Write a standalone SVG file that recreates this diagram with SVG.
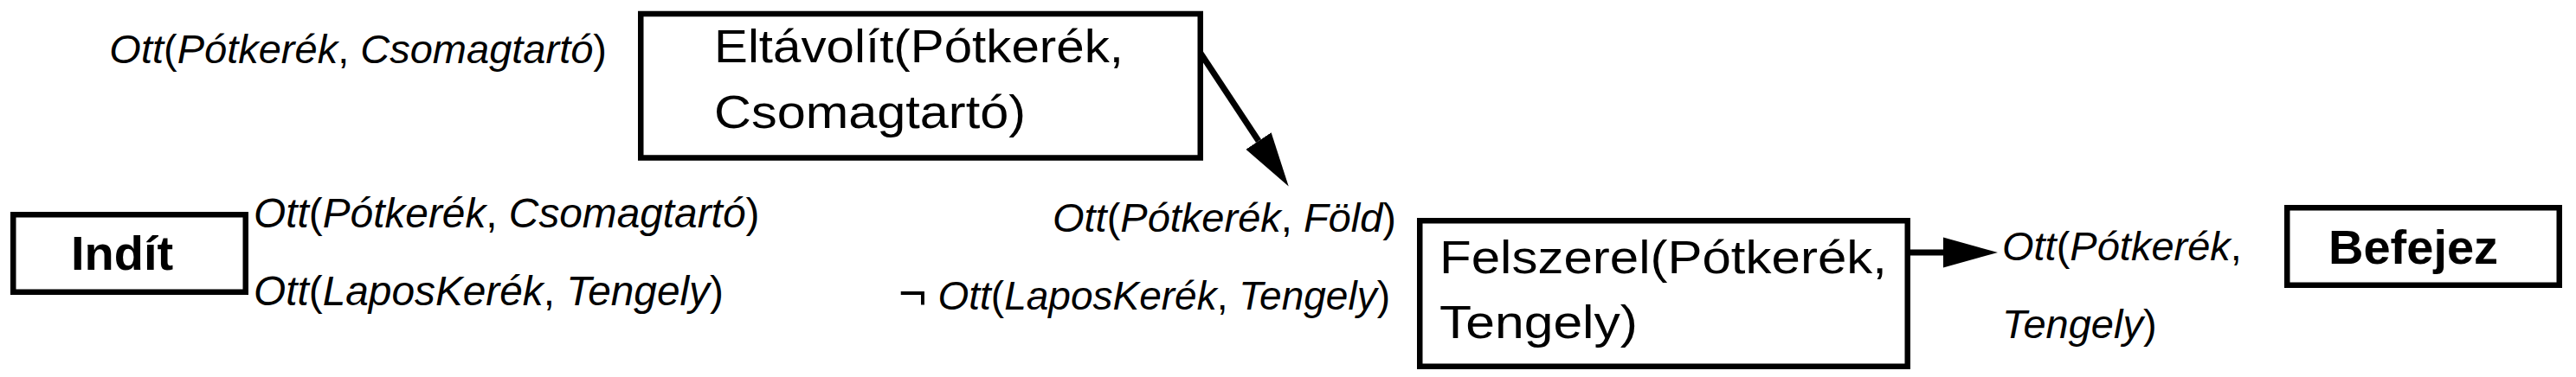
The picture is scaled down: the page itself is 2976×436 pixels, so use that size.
<svg xmlns="http://www.w3.org/2000/svg" width="2976" height="436" viewBox="0 0 2976 436">
  <style>
    .box { fill: #ffffff; stroke: #000000; stroke-width: 6.5; }
    .t { font-family: "Liberation Sans", Arial, Helvetica, sans-serif; fill: #000000; }
    .lbl { font-size: 47.5px; }
    .act { font-size: 54px; }
    .bold { font-size: 56px; font-weight: bold; }
    .i { font-style: italic; }
    .conn { stroke: #000000; stroke-width: 7; fill: none; }
  </style>
  <defs>
    <marker id="arrow" markerUnits="userSpaceOnUse" markerWidth="64" markerHeight="40" viewBox="0 -20 64 40" refX="0" refY="0" orient="auto">
      <path d="M0,-17.5 L63,0 L0,17.5 Z" fill="#000000"/>
    </marker>
  </defs>
  <rect width="2976" height="436" fill="#ffffff"/>

  <g id="connectors">
    <line class="conn" x1="1386" y1="60" x2="1454" y2="163" marker-end="url(#arrow)"/>
    <line class="conn" x1="2207" y1="292" x2="2245" y2="292" marker-end="url(#arrow)"/>
  </g>

  <g id="node-indit">
    <rect class="box" x="15.25" y="248.25" width="268.5" height="89.5"/>
    <text class="t bold" x="82" y="312">Indít</text>
  </g>

  <g id="labels-indit">
    <text class="t lbl" x="293" y="263" style="font-size:47.8px"><tspan class="i">Ott</tspan>(<tspan class="i">Pótkerék</tspan>, <tspan class="i">Csomagtartó</tspan>)</text>
    <text class="t lbl" x="293" y="353" style="font-size:47.8px"><tspan class="i">Ott</tspan>(<tspan class="i">LaposKerék</tspan>, <tspan class="i">Tengely</tspan>)</text>
  </g>

  <g id="node-eltavolit">
    <text class="t lbl" x="701" y="73" text-anchor="end" style="font-size:47px"><tspan class="i">Ott</tspan>(<tspan class="i">Pótkerék</tspan>, <tspan class="i">Csomagtartó</tspan>)</text>
    <rect class="box" x="740.25" y="16" width="646.5" height="166.5"/>
    <text class="t act" x="825" y="72" textLength="473" lengthAdjust="spacingAndGlyphs">Eltávolít(Pótkerék,</text>
    <text class="t act" x="825" y="148" textLength="360" lengthAdjust="spacingAndGlyphs">Csomagtartó)</text>
  </g>

  <g id="labels-felszerel">
    <text class="t lbl" x="1613" y="268" text-anchor="end" style="font-size:47px"><tspan class="i">Ott</tspan>(<tspan class="i">Pótkerék</tspan>, <tspan class="i">Föld</tspan>)</text>
    <text class="t lbl" x="1606" y="358" text-anchor="end" style="font-size:46px"><tspan style="font-size:56px">¬</tspan> <tspan class="i">Ott</tspan>(<tspan class="i">LaposKerék</tspan>, <tspan class="i">Tengely</tspan>)</text>
  </g>

  <g id="node-felszerel">
    <rect class="box" x="1640.25" y="255.25" width="563.5" height="168.5"/>
    <text class="t act" x="1663" y="316" textLength="517" lengthAdjust="spacingAndGlyphs">Felszerel(Pótkerék,</text>
    <text class="t act" x="1663" y="391" textLength="229" lengthAdjust="spacingAndGlyphs">Tengely)</text>
  </g>

  <g id="labels-befejez">
    <text class="t lbl" x="2313" y="301" style="font-size:47px"><tspan class="i">Ott</tspan>(<tspan class="i">Pótkerék</tspan>,</text>
    <text class="t lbl" x="2313" y="391" style="font-size:47px"><tspan class="i">Tengely</tspan>)</text>
  </g>

  <g id="node-befejez">
    <rect class="box" x="2642.25" y="240.25" width="314.5" height="89.5"/>
    <text class="t bold" x="2690" y="305">Befejez</text>
  </g>
</svg>
